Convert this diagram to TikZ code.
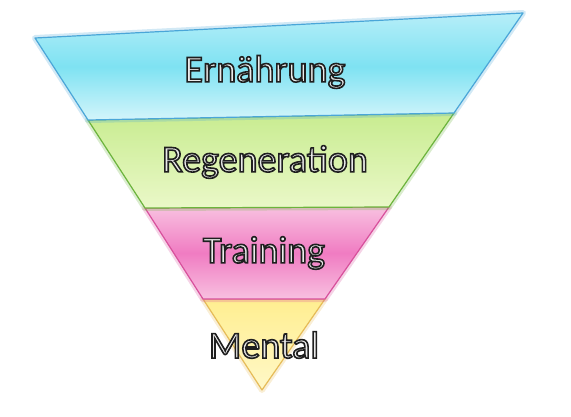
\documentclass[tikz,border=0pt]{standalone}
\usepackage{fontspec}
\newfontfamily\bandfont{Carlito}
\usepackage{xcolor}
\definecolor{PYcyan}{HTML}{7EE2F2}
\definecolor{PYcyanTop}{HTML}{B6EEF8}
\definecolor{PYcyanLine}{HTML}{4AA6D8}
\definecolor{PYgreen}{HTML}{C8EC90}
\definecolor{PYgreenTop}{HTML}{EAF8C8}
\definecolor{PYgreenLine}{HTML}{6CB43C}
\definecolor{PYpink}{HTML}{F07CC2}
\definecolor{PYpinkTop}{HTML}{F8C0E0}
\definecolor{PYpinkLine}{HTML}{D8509C}
\definecolor{PYyellow}{HTML}{FFEE90}
\definecolor{PYyellowTop}{HTML}{FFF8C8}
\definecolor{PYyellowLine}{HTML}{E6BC58}
\usetikzlibrary{calc}
% outlined letters: fill + stroke text mode
\newcommand\outlined[1]{%
  \special{pdf:literal direct 2 Tr 1.6 w 0.12 0.12 0.12 RG}#1%
  \special{pdf:literal direct 0 Tr 0.4 w 0 0 0 RG}}

\begin{document}
\begin{tikzpicture}[
  x=1pt, y=-1pt,
  band/.style={line width=1.2pt, line join=round},
  glow/.style={line width=6pt, line join=round, opacity=0.25},
  title/.style={font=\bandfont\fontsize{38}{40}\selectfont, text=black!8, inner sep=0pt},
]
\useasboundingbox (0,0) rectangle (571,417);

% corners
\coordinate (L0) at (35,38);   \coordinate (R0) at (523,13);
\coordinate (L1) at (88,120);  \coordinate (R1) at (454,113);
\coordinate (L2) at (145,208); \coordinate (R2) at (389,207);
\coordinate (L3) at (203,299); \coordinate (R3) at (325,299);
\coordinate (apex) at (262,390);

% Layer 4 — Mental
\draw[glow, PYyellowLine] (L3) -- (R3) -- (apex) -- cycle;
\shade[top color=PYyellow, bottom color=PYyellowTop] (L3) -- (R3) -- (apex) -- cycle;
\draw[band, PYyellowLine] (L3) -- (R3) -- (apex) -- cycle;

% Layer 3 — Training
\draw[glow, PYpinkLine] (L2) -- (R2) -- (R3) -- (L3) -- cycle;
\shade[top color=PYpinkTop, bottom color=PYpinkTop, middle color=PYpink]
  (L2) -- (R2) -- (R3) -- (L3) -- cycle;
\draw[band, PYpinkLine] (L2) -- (R2) -- (R3) -- (L3) -- cycle;

% Layer 2 — Regeneration
\draw[glow, PYgreenLine] (L1) -- (R1) -- (R2) -- (L2) -- cycle;
\shade[top color=PYgreen, bottom color=PYgreenTop]
  (L1) -- (R1) -- (R2) -- (L2) -- cycle;
\draw[band, PYgreenLine] (L1) -- (R1) -- (R2) -- (L2) -- cycle;

% Layer 1 — Ernaehrung
\draw[glow, PYcyanLine] (L0) -- (R0) -- (R1) -- (L1) -- cycle;
\shade[top color=PYcyanTop, bottom color=PYcyanTop!60!white, middle color=PYcyan]
  (L0) -- (R0) -- (R1) -- (L1) -- cycle;
\draw[band, PYcyanLine] (L0) -- (R0) -- (R1) -- (L1) -- cycle;

% labels
\node[title] (ernaehrung) at (265,72) {\outlined{Ernährung}};
\node[title] (regeneration) at (265,162) {\outlined{Regeneration}};
\node[title] (training) at (264,253) {\outlined{Training}};
\node[title] (mental) at (264,345) {\outlined{Mental}};

\end{tikzpicture}
\end{document}
